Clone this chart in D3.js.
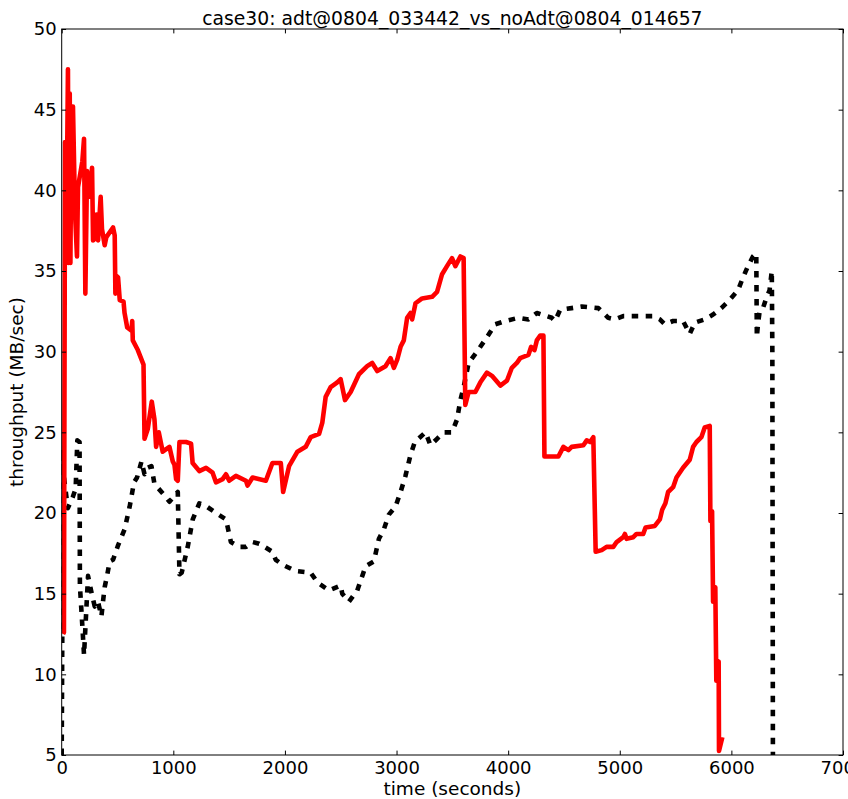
<!DOCTYPE html>
<html>
<head>
<meta charset="utf-8">
<script src="https://cdn.jsdelivr.net/npm/d3@7"></script>
<style>
  body { margin: 0; background: #fff; }
  svg { display: block; }
  text { font-family: "DejaVu Sans", sans-serif; fill: #000; }
</style>
</head>
<body>
<svg id="chart" width="848" height="799"></svg>
<script>
// Run with adaptation (red, solid): time in seconds, throughput in MB/sec
const adtTime = [12,20,30,40,56,62,72,78,88,101,120,137,146,185,200,212,227,251,272,281,300,311,326,349,361,385,400,460,475,481,490,505,520,554,563,587,625,632,637,682,733,742,771,807,831,846,870,905,965,995,1010,1025,1040,1055,1114,1159,1173,1233,1293,1352,1382,1442,1472,1501,1561,1651,1665,1710,1829,1888,1963,1984,2037,2112,2186,2231,2306,2335,2365,2410,2469,2499,2538,2589,2663,2737,2782,2827,2901,2946,2976,3006,3036,3065,3095,3125,3140,3170,3229,3319,3363,3408,3452,3497,3527,3572,3601,3616,3646,3706,3751,3810,3855,3930,3989,4033,4078,4108,4182,4206,4236,4257,4287,4316,4325,4450,4495,4540,4569,4674,4704,4734,4763,4784,4838,4882,4942,4972,5031,5046,5061,5121,5150,5210,5231,5314,5359,5380,5409,5433,5478,5508,5567,5627,5657,5687,5731,5761,5806,5812,5827,5836,5856,5865,5886,5889,5919];
const adtThroughput = [12.5,12.6,43,35.5,47.5,35.5,46,35.5,45.2,45.2,38.5,35.9,40.2,41.8,43.2,33.6,41.2,39.6,41.4,36.9,37.0,38.5,36.9,39.6,37.6,36.6,37.1,37.7,37.2,33.6,34.7,34.6,33.2,33.1,32.4,31.5,31.3,31.9,30.7,30.1,29.2,24.6,25.2,26.9,25.8,24.1,25.0,23.8,24.1,23.2,23.0,22.1,22.0,24.4,24.4,24.3,23.1,22.6,22.8,22.5,21.9,22.1,22.4,22.0,22.3,22.0,21.7,22.2,22.0,23.1,23.1,21.3,22.9,23.8,24.1,24.7,24.9,25.6,27.2,27.8,28.1,28.3,27.0,27.5,28.6,29.1,29.3,28.8,29.1,29.6,29.0,29.5,30.3,30.7,32.1,32.4,32.0,33.0,33.3,33.4,33.7,34.8,35.3,35.8,35.3,35.9,35.8,26.7,27.5,27.5,28.1,28.7,28.5,27.9,28.2,29.0,29.3,29.6,29.8,30.3,30.1,30.7,31.0,31.0,23.5,23.5,24.1,23.9,24.1,24.2,24.5,24.4,24.7,17.6,17.7,17.9,17.9,18.2,18.5,18.7,18.4,18.5,18.7,18.7,19.1,19.2,19.6,20.2,20.6,21.3,21.6,22.2,22.8,23.3,24.1,24.4,24.7,25.3,25.4,19.5,20.1,14.5,15.4,9.6,10.8,5.25,6.1];

// Run without adaptation (black, dashed)
const noAdtTime = [0,5,8,15,55,100,125,140,160,163,185,200,236,266,296,325,356,370,385,409,430,460,505,564,609,648,675,715,742,769,804,831,920,965,1040,1055,1075,1129,1174,1203,1233,1278,1382,1472,1516,1591,1651,1710,1769,1888,1918,1978,2097,2231,2291,2395,2499,2514,2574,2648,2723,2797,2842,2887,2931,2991,3036,3080,3125,3164,3259,3304,3363,3423,3497,3542,3572,3601,3646,3721,3810,3885,3974,4093,4182,4257,4391,4420,4466,4569,4659,4808,4838,4897,4957,5031,5165,5299,5359,5404,5478,5567,5627,5672,5761,5836,5910,5970,6059,6104,6149,6193,6223,6228,6238,6253,6283,6312,6342,6362,6367,6372];
const noAdtThroughput = [5,12,24,22.5,20.3,21,21.5,24.5,24.4,15.5,13.0,11.2,16.1,15.1,14.2,14.5,13.6,14.5,15.4,16.2,17.0,17.1,18.0,19.0,20.4,21.9,22.2,23.2,22.4,22.8,22.9,21.8,21.1,20.7,21.3,16.2,16.3,17.9,19.6,20.1,20.6,20.5,20.0,19.6,18.2,17.9,17.9,18.2,18.1,17.6,17.1,16.8,16.4,16.3,15.7,15.2,15.5,15.0,14.5,15.2,16.7,17.0,18.4,19.0,19.9,20.4,21.3,22.3,23.6,24.4,25.0,24.2,24.6,25.0,25.0,25.8,27.0,27.8,29.3,30.0,30.9,31.7,31.9,32.1,32.0,32.4,32.1,31.9,32.6,32.7,32.8,32.7,32.5,32.1,32.0,32.2,32.2,32.2,32.0,31.7,31.9,31.9,31.1,31.8,32.0,32.3,32.7,33.1,33.8,34.6,35.3,35.9,36.1,30.9,31.7,32.5,32.7,33.3,33.8,35.0,30.1,5.0];

const xTicks = [0,1000,2000,3000,4000,5000,6000,7000];
const yTicks = [5,10,15,20,25,30,35,40,45,50];
const chartTitle = "case30: adt@0804_033442_vs_noAdt@0804_014657";
const xLabel = "time (seconds)";
const yLabel = "throughput (MB/sec)";

const svg = d3.select("#chart");
const width = 848, height = 799;
const margin = { left: 61.7, top: 29, right: 5, bottom: 44 };
const x0 = margin.left, x1 = width - margin.right;
const y0 = height - margin.bottom, y1 = margin.top;

const x = d3.scaleLinear().domain([0, 7000]).range([x0, x1]);
const y = d3.scaleLinear().domain([5, 50]).range([y0, y1]);

svg.append("defs").append("clipPath").attr("id", "plotClip")
  .append("rect").attr("x", x0).attr("y", y1).attr("width", x1 - x0).attr("height", y0 - y1);

const line = d3.line().x(d => x(d[0])).y(d => y(d[1]));
const noAdt = noAdtTime.map((t, i) => [t, noAdtThroughput[i]]);
const adt = adtTime.map((t, i) => [t, adtThroughput[i]]);

const plot = svg.append("g").attr("clip-path", "url(#plotClip)");
plot.append("path").datum(noAdt)
  .attr("d", line)
  .attr("fill", "none").attr("stroke", "#000").attr("stroke-width", 4.6)
  .attr("stroke-dasharray", "6.5,7.5").attr("stroke-linecap", "butt").attr("stroke-linejoin", "round");
plot.append("path").datum(adt)
  .attr("d", line)
  .attr("fill", "none").attr("stroke", "#ff0000").attr("stroke-width", 4.6)
  .attr("stroke-linecap", "butt").attr("stroke-linejoin", "round");

// Axes with inward ticks, mirrored on top and right
const tickLen = 4.4;
svg.append("g").attr("transform", `translate(0,${y0})`)
  .call(d3.axisBottom(x).tickValues(xTicks).tickSizeInner(-tickLen).tickSizeOuter(0).tickPadding(6).tickFormat(d3.format("d")));
svg.append("g").attr("transform", `translate(0,${y1})`)
  .call(d3.axisTop(x).tickValues(xTicks).tickSizeInner(-tickLen).tickSizeOuter(0).tickFormat(""));
svg.append("g").attr("transform", `translate(${x0},0)`)
  .call(d3.axisLeft(y).tickValues(yTicks).tickSizeInner(-tickLen).tickSizeOuter(0).tickPadding(5).tickFormat(d3.format("d")));
svg.append("g").attr("transform", `translate(${x1},0)`)
  .call(d3.axisRight(y).tickValues(yTicks).tickSizeInner(-tickLen).tickSizeOuter(0).tickFormat(""));

svg.selectAll(".domain").remove();
svg.selectAll(".tick line").attr("stroke", "#000").attr("stroke-width", 1);
svg.selectAll(".tick text").attr("font-size", 18).attr("font-family", "DejaVu Sans, sans-serif").attr("fill", "#000");

svg.append("rect").attr("x", x0).attr("y", y1).attr("width", x1 - x0).attr("height", y0 - y1)
  .attr("fill", "none").attr("stroke", "#000").attr("stroke-width", 1);

svg.append("text").attr("x", (x0 + x1) / 2).attr("y", 25)
  .attr("text-anchor", "middle").attr("font-size", 18.8).text(chartTitle);
svg.append("text").attr("x", (x0 + x1) / 2).attr("y", 795)
  .attr("text-anchor", "middle").attr("font-size", 18.5).text(xLabel);
svg.append("text").attr("transform", `translate(23,${(y0 + y1) / 2}) rotate(-90)`)
  .attr("text-anchor", "middle").attr("font-size", 18.5).text(yLabel);
</script>
</body>
</html>
